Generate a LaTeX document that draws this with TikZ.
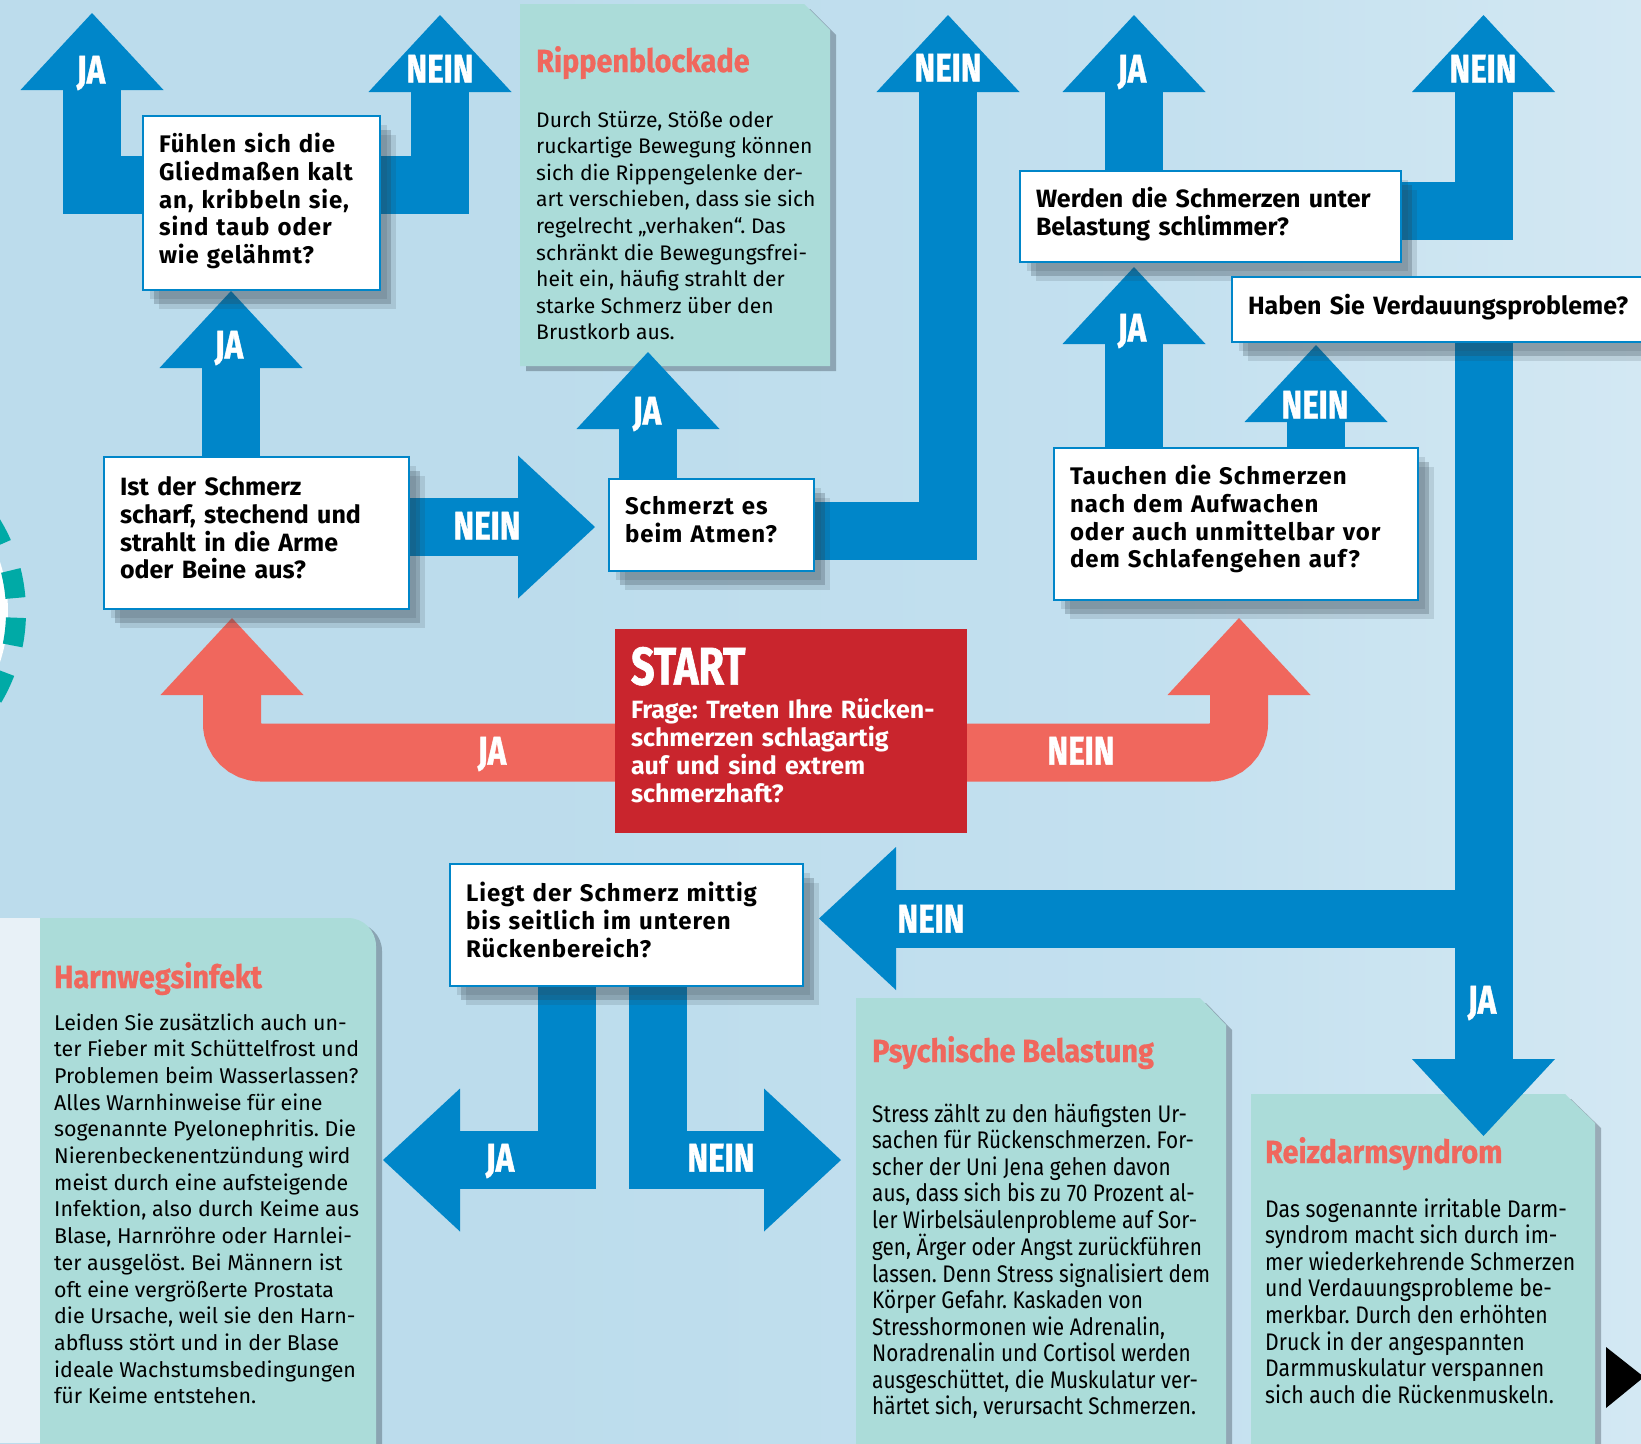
\documentclass[tikz,border=0pt]{standalone}
\usepackage{fontspec}
\setmainfont{Fira Sans}
\newfontfamily\qwide[LetterSpace=4]{Fira Sans}
\newfontfamily\tagfont[FakeStretch=0.78,FakeBold=1.2]{Fira Sans}
\newfontfamily\headfont[FakeStretch=0.9,FakeBold=0.8]{Fira Sans}
\newfontfamily\psycond[FakeStretch=0.865]{Fira Sans}
\newfontfamily\reizcond[FakeStretch=0.885]{Fira Sans}
\usetikzlibrary{arrows.meta, positioning, shadows}
\frenchspacing
\newcommand{\boxtail}[1]{\endgraf\vspace*{#1}}

\definecolor{flowblue}{HTML}{0086C9}
\definecolor{coral}{HTML}{F0675D}
\definecolor{startred}{HTML}{C9252D}
\definecolor{notegreen}{HTML}{ABDCD9}
\definecolor{shadowgray}{HTML}{2F3D48}
\definecolor{ringteal}{HTML}{00AAA6}
\definecolor{stripwhite}{HTML}{E8F1F7}
\definecolor{bgA}{HTML}{BCDCEC}
\definecolor{bgB}{HTML}{C3E0EF}
\definecolor{bgC}{HTML}{D3E8F3}
\definecolor{bgD}{HTML}{DCEDF6}
\definecolor{bgE}{HTML}{EFF5FA}
\pgfdeclarehorizontalshading{bgshade}{100bp}{color(0bp)=(bgA); color(40bp)=(bgA); color(60bp)=(bgB); color(75bp)=(bgC); color(88bp)=(bgD); color(92bp)=(bgE); color(100bp)=(bgE)}

\pgfdeclarelayer{back}
\pgfdeclarelayer{flow}
\pgfsetlayers{back,flow,main}

\begin{document}
\begin{tikzpicture}[x=1pt, y=-1pt,
    tail/.store in=\tailsp, tail=10pt,
    barrow/.style={draw=flowblue, line width=58pt, -{Triangle[width=143pt, length=77pt, line width=0pt]}},
    rarrow/.style={draw=coral, line width=58pt, rounded corners=29pt, -{Triangle[width=143pt, length=77pt, line width=0pt]}},
    qbox/.style={draw=flowblue, line width=2.5pt, fill=white, anchor=north west, outer sep=0pt,
      inner xsep=16pt, inner ysep=0pt, align=left, execute at end node={\boxtail{\tailsp}},
      general shadow={fill=shadowgray, opacity=.14, shadow xshift=16pt, shadow yshift=-19pt},
      general shadow={fill=shadowgray, opacity=.24, shadow xshift=11pt, shadow yshift=-14pt},
      general shadow={fill=shadowgray, opacity=.14, shadow xshift=7pt, shadow yshift=-9pt}},
    wideq/.style={qbox, font=\qwide\bfseries\fontsize{24}{27.9}\selectfont},
    narrowq/.style={qbox, font=\bfseries\fontsize{25}{27.8}\selectfont},
    startbox/.style={fill=startred, text=white, anchor=north west, outer sep=0pt, inner xsep=16pt,
      inner ysep=0pt, align=left, execute at end node={\boxtail{12pt}},
      font=\bfseries\fontsize{25}{28}\selectfont},
    tag/.style={text=white, inner sep=0pt, text height=27pt, text depth=0pt,
      font=\tagfont\bfseries\fontsize{40}{40}\selectfont},
    note/.style={fill=notegreen, general shadow={fill=shadowgray, opacity=.35, shadow xshift=6pt, shadow yshift=-5pt}},
    notehead/.style={anchor=base west, inner sep=0pt, text=coral, font=\headfont\bfseries\fontsize{32}{32}\selectfont},
    notebody/.style={anchor=base west, inner sep=0pt}
  ]
  \useasboundingbox (0,0) rectangle (1641,1443);

  \node[wideq, tail=4pt, text width=205pt, minimum height=174pt] (qlimbs) at (143,116)
    {Fühlen sich die\\Gliedmaßen kalt\\an, kribbeln sie,\\sind taub oder\\wie gelähmt?};
  \node[narrowq, text width=273pt, minimum height=152pt] (qsharp) at (104,457)
    {Ist der Schmerz\\scharf, stechend und\\strahlt in die Arme\\oder Beine aus?};
  \node[wideq, text width=173pt, minimum height=92pt] (qbreath) at (609,479)
    {Schmerzt es\\beim Atmen?};
  \node[narrowq, tail=4pt, text width=349pt, minimum height=91pt] (qload) at (1020,171)
    {Werden die Schmerzen unter\\Belastung schlimmer?};
  \node[narrowq, tail=4pt, text width=398pt, minimum height=65pt] (qdigest) at (1232,277)
    {Haben Sie Verdauungsprobleme?};
  \node[wideq, text width=332pt, minimum height=152pt] (qsleep) at (1054,448)
    {Tauchen die Schmerzen\\nach dem Aufwachen\\oder auch unmittelbar vor\\dem Schlafengehen auf?};
  \node[wideq, text width=321pt, minimum height=122pt] (qlow) at (450,864)
    {Liegt der Schmerz mittig\\bis seitlich im unteren\\Rückenbereich?};
  \node[startbox, text width=320pt, minimum height=204pt] (start) at (615,629)
    {{\tagfont\bfseries\fontsize{53}{53}\selectfont START}\\[6pt]Frage: Treten Ihre Rücken-\\schmerzen schlagartig\\auf und sind extrem\\schmerzhaft?};

  \begin{pgfonlayer}{back}
    \shade[shading=bgshade] (0,0) rectangle (1641,1443);
    \fill[stripwhite] (0,918) rectangle (40,1443);
    \fill[white] (-152,612) circle[radius=160pt];
    \draw[ringteal, line width=20pt, dash pattern=on 28pt off 28pt, dash phase=42pt] (-152,612) circle[radius=168pt];

    \fill[note] (520,4) -- (804,4) -- (830,30) -- (830,366) -- (520,366) -- cycle;
    \fill[note] (40,1460) -- (40,918) -- (348,918) arc[start angle=90, end angle=0, radius=28pt] -- (376,1460) -- cycle;
    \fill[note] (856,998) -- (1200,998) -- (1226,1025) -- (1226,1460) -- (856,1460) -- cycle;
    \fill[note] (1251,1094) -- (1565,1094) -- (1595,1123) -- (1595,1460) -- (1251,1460) -- cycle;
    \fill (1606,1347) -- (1644,1377) -- (1606,1408) -- cycle;

    \node[notehead] (riphead) at (536,72) {Rippenblockade};
    \node[notebody, font=\fontsize{21.1}{26.6}\selectfont] (ripbody) at (536,127) {\parbox[t]{320pt}{\raggedright
      Durch Stürze, Stöße oder\\ruckartige Bewegung können\\sich die Rippengelenke der-\\art verschieben, dass sie sich\\regelrecht „verhaken“. Das\\schränkt die Bewegungsfrei-\\heit ein, häufig strahlt der\\starke Schmerz über den\\Brustkorb aus.}};
    \node[notehead] (harnhead) at (54,988) {Harnwegsinfekt};
    \node[notebody, font=\fontsize{21.4}{26.7}\selectfont] (harnbody) at (54,1030) {\parbox[t]{340pt}{\raggedright
      Leiden Sie zusätzlich auch un-\\ter Fieber mit Schüttelfrost und\\Problemen beim Wasserlassen?\\Alles Warnhinweise für eine\\sogenannte Pyelonephritis. Die\\Nierenbeckenentzündung wird\\meist durch eine aufsteigende\\Infektion, also durch Keime aus\\Blase, Harnröhre oder Harnlei-\\ter ausgelöst. Bei Männern ist\\oft eine vergrößerte Prostata\\die Ursache, weil sie den Harn-\\abfluss stört und in der Blase\\ideale Wachstumsbedingungen\\für Keime entstehen.}};
    \node[notehead] (psyhead) at (872,1062) {Psychische Belastung};
    \node[notebody, font=\psycond\fontsize{24}{26.5}\selectfont] (psybody) at (872,1122) {\parbox[t]{380pt}{\raggedright
      Stress zählt zu den häufigsten Ur-\\sachen für Rückenschmerzen. For-\\scher der Uni Jena gehen davon\\aus, dass sich bis zu 70 Prozent al-\\ler Wirbelsäulenprobleme auf Sor-\\gen, Ärger oder Angst zurückführen\\lassen. Denn Stress signalisiert dem\\Körper Gefahr. Kaskaden von\\Stresshormonen wie Adrenalin,\\Noradrenalin und Cortisol werden\\ausgeschüttet, die Muskulatur ver-\\härtet sich, verursacht Schmerzen.}};
    \node[notehead] (reizhead) at (1265,1163) {Reizdarmsyndrom};
    \node[notebody, font=\reizcond\fontsize{24}{26.6}\selectfont] (reizbody) at (1265,1217) {\parbox[t]{360pt}{\raggedright
      Das sogenannte irritable Darm-\\syndrom macht sich durch im-\\mer wiederkehrende Schmerzen\\und Verdauungsprobleme be-\\merkbar. Durch den erhöhten\\Druck in der angespannten\\Darmmuskulatur verspannen\\sich auch die Rückenmuskeln.}};
  \end{pgfonlayer}

  \coordinate (limbsYes) at (92,13);
  \coordinate (limbsNo) at (440,15);
  \coordinate (sharpYes) at (231,291);
  \coordinate (sharpNo) at (595,527);
  \coordinate (breathYes) at (648,352);
  \coordinate (breathNo) at (948,15);
  \coordinate (loadYes) at (1134,15);
  \coordinate (loadNo) at (1483.5,15);
  \coordinate (sleepYes) at (1134,267);
  \coordinate (sleepNo) at (1316,345);
  \coordinate (digestYes) at (1483.5,1136);
  \coordinate (digestNo) at (819,918.5);
  \coordinate (lowYesBend) at (566.5,1160);
  \coordinate (lowYes) at (383,1160);
  \coordinate (lowNoBend) at (657.5,1160);
  \coordinate (lowNo) at (841,1160);
  \coordinate (startYes) at (232,618);
  \coordinate (startNo) at (1239,618);

  \begin{pgfonlayer}{flow}
    \draw[barrow] ([yshift=18.5pt]qlimbs.center) -| (limbsYes);
    \draw[barrow] ([yshift=18.5pt]qlimbs.center) -| (limbsNo);
    \draw[barrow] (sharpYes |- qsharp.center) -- (sharpYes);
    \draw[barrow] (qsharp.center |- sharpNo) -- (sharpNo);
    \draw[barrow] (breathYes |- qbreath.center) -- (breathYes);
    \draw[barrow] ([yshift=-6pt]qbreath.center) -| (breathNo);
    \draw[barrow] (loadYes |- qload.center) -- (loadYes);
    \draw[barrow] ([yshift=5.5pt]qload.center) -| (loadNo);
    \draw[barrow] (sleepYes |- qsleep.center) -- (sleepYes);
    \draw[barrow] (sleepNo |- qsleep.center) -- (sleepNo);
    \draw[barrow] (digestYes |- qdigest.center) -- (digestYes);
    \draw[barrow] (digestYes |- digestNo) -- (digestNo);
    \draw[barrow] (lowYesBend |- qlow.center) |- (lowYes);
    \draw[barrow] (lowNoBend |- qlow.center) |- (lowNo);
    \draw[rarrow] ([yshift=-21.5pt]start.center) -| (startYes);
    \draw[rarrow] ([yshift=-21.5pt]start.center) -| (startNo);

    \node[tag] (tagLimbsYes) at (91,70) {JA};
    \node[tag] (tagLimbsNo) at (440,69) {NEIN};
    \node[tag] (tagSharpYes) at (229,345) {JA};
    \node[tag] (tagSharpNo) at (487,526) {NEIN};
    \node[tag] (tagBreathYes) at (647,411) {JA};
    \node[tag] (tagBreathNo) at (948,68) {NEIN};
    \node[tag] (tagLoadYes) at (1132,69) {JA};
    \node[tag] (tagLoadNo) at (1483,69) {NEIN};
    \node[tag] (tagSleepYes) at (1132,328) {JA};
    \node[tag] (tagSleepNo) at (1315,405) {NEIN};
    \node[tag] (tagStartYes) at (492,751) {JA};
    \node[tag] (tagStartNo) at (1081,751) {NEIN};
    \node[tag] (tagDigestNo) at (931,919) {NEIN};
    \node[tag] (tagDigestYes) at (1482,1000) {JA};
    \node[tag] (tagLowYes) at (500,1158) {JA};
    \node[tag] (tagLowNo) at (721,1158) {NEIN};
  \end{pgfonlayer}
\end{tikzpicture}
\end{document}
